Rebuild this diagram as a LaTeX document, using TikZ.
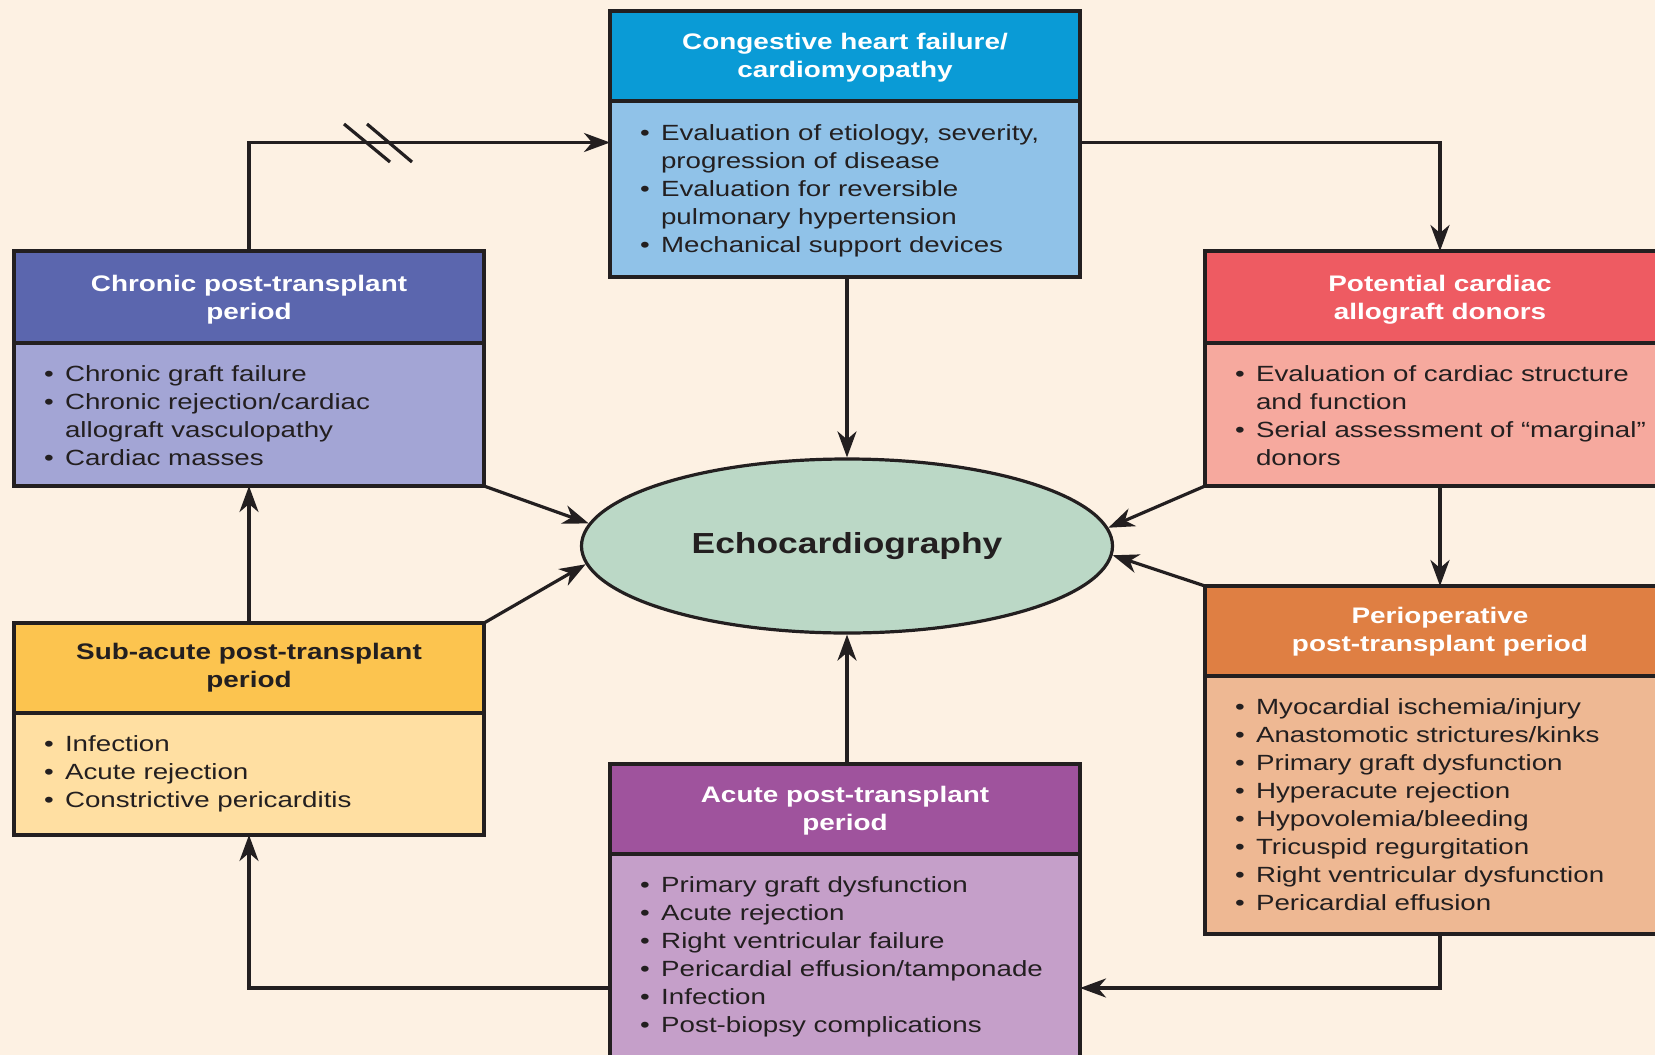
\documentclass[tikz,border=0pt]{standalone}
\usepackage{fontspec}
\setmainfont{Liberation Sans}
\usetikzlibrary{shapes.geometric,arrows.meta}

\definecolor{bg}{HTML}{FDF1E3}
\definecolor{ink}{HTML}{231F20}
\definecolor{chfhd}{HTML}{0A9BD6}
\definecolor{chfbd}{HTML}{90C2E8}
\definecolor{chrhd}{HTML}{5B66AE}
\definecolor{chrbd}{HTML}{A3A5D5}
\definecolor{donhd}{HTML}{EE5B62}
\definecolor{donbd}{HTML}{F6A99E}
\definecolor{subhd}{HTML}{FCC44F}
\definecolor{subbd}{HTML}{FFDFA2}
\definecolor{perhd}{HTML}{DF7F43}
\definecolor{perbd}{HTML}{EEB893}
\definecolor{acuhd}{HTML}{9F539D}
\definecolor{acubd}{HTML}{C59FC9}
\definecolor{echofill}{HTML}{BBD8C6}

% letters are set slightly wide; the optional argument lowers a block inside its box
\newcommand\heading[2][0pt]{\raisebox{-#1}[\height][\depth]{\scalebox{1.24}[1]{\begin{tabular}{@{}c@{}}#2\end{tabular}}}}
\newcommand\bullets[1]{\scalebox{1.26}[1]{\begin{tabular}{@{}l@{\hspace{9pt}}l@{}}#1\end{tabular}}}
\newcommand\bodytext[2][2pt]{\makebox[410pt][l]{\raisebox{-#1}[\height][\depth]{\bullets{#2}}}}

\tikzset{
  boxhead/.style={draw=ink, line width=3.2pt, minimum width=470pt, minimum height=90pt,
    anchor=north west, inner sep=0pt, outer sep=0pt, text=white,
    font=\bfseries\fontsize{22.5}{28}\selectfont},
  boxbody/.style={draw=ink, line width=3.2pt, minimum width=470pt, anchor=north west,
    inner xsep=30pt, inner ysep=0pt, outer sep=0pt, text=ink,
    font=\fontsize{22}{28}\selectfont},
  listtext/.style={inner sep=0pt, text=ink, font=\fontsize{22}{28}\selectfont},
  link/.style={draw=ink, line width=3.2pt},
  arr/.style={link, -{Stealth[length=26pt,width=19pt,inset=8pt]}}
}

\begin{document}
\begin{tikzpicture}[x=1pt, y=-1pt]
\clip (0,0) rectangle (1655,1055);
\fill[bg] (0,0) rectangle (1655,1055);

% Congestive heart failure
\node[boxhead, fill=chfhd] (chfhead) at (610,11)
  {\heading[2pt]{Congestive heart failure/\\cardiomyopathy}};
\node[boxbody, fill=chfbd, minimum height=176pt] (chfbody) at (chfhead.south west)
  {\bodytext{\textbullet & Evaluation of etiology, severity,\\
   & progression of disease\\
   \textbullet & Evaluation for reversible\\
   & pulmonary hypertension\\
   \textbullet & Mechanical support devices}};

% Chronic post-transplant period
\node[boxhead, fill=chrhd, minimum height=92pt] (chronhead) at (14,251)
  {\heading[2.5pt]{Chronic post-transplant\\period}};
\node[boxbody, fill=chrbd, minimum height=143pt] (chronbody) at (chronhead.south west)
  {\bodytext[3.5pt]{\textbullet & Chronic graft failure\\
   \textbullet & Chronic rejection/cardiac\\
   & allograft vasculopathy\\
   \textbullet & Cardiac masses}};

% Potential donors
\node[boxhead, fill=donhd, minimum height=92pt] (donorhead) at (1205,251)
  {\heading[2.5pt]{Potential cardiac\\allograft donors}};
\node[boxbody, fill=donbd, minimum height=143pt] (donorbody) at (donorhead.south west)
  {\bodytext[3.5pt]{\textbullet & Evaluation of cardiac structure\\
   & and function\\
   \textbullet & Serial assessment of “marginal”\\
   & donors}};

% Sub-acute post-transplant period
\node[boxhead, fill=subhd, text=ink] (subhead) at (14,623)
  {\heading{Sub-acute post-transplant\\period}};
\node[boxbody, fill=subbd, minimum height=122pt] (subbody) at (subhead.south west)
  {\bodytext[0pt]{\textbullet & Infection\\
   \textbullet & Acute rejection\\
   \textbullet & Constrictive pericarditis}};

% Perioperative post-transplant period
\node[boxhead, fill=perhd] (periophead) at (1205,586)
  {\heading[0.5pt]{Perioperative\\post-transplant period}};
\node[boxbody, fill=perbd, minimum height=258pt] (periopbody) at (periophead.south west)
  {\bodytext{\textbullet & Myocardial ischemia/injury\\
   \textbullet & Anastomotic strictures/kinks\\
   \textbullet & Primary graft dysfunction\\
   \textbullet & Hyperacute rejection\\
   \textbullet & Hypovolemia/bleeding\\
   \textbullet & Tricuspid regurgitation\\
   \textbullet & Right ventricular dysfunction\\
   \textbullet & Pericardial effusion}};

% Acute post-transplant period (runs past the lower edge)
\node[boxhead, fill=acuhd] (acutehead) at (610,764)
  {\heading[2pt]{Acute post-transplant\\period}};
\node[boxbody, fill=acubd, minimum height=240pt] (acutebody) at (acutehead.south west) {};
\node[listtext, anchor=north west] (acutelist) at ([xshift=30pt,yshift=-18.5pt]acutebody.north west)
  {\bullets{\textbullet & Primary graft dysfunction\\
   \textbullet & Acute rejection\\
   \textbullet & Right ventricular failure\\
   \textbullet & Pericardial effusion/tamponade\\
   \textbullet & Infection\\
   \textbullet & Post-biopsy complications}};

% Centre
\node[ellipse, draw=ink, line width=3.2pt, fill=echofill, minimum width=531pt,
  minimum height=174pt, inner sep=0pt, text=ink,
  font=\bfseries\fontsize{29}{34}\selectfont] (echo) at (847,546)
  {\scalebox{1.22}[1]{Echocardiography}};

% Cycle of connectors
\draw[arr] (chronhead.north) |- ([yshift=-41.5pt]chfbody.north west);
\draw[link] (344,124) -- (390,162);
\draw[link] (367,124) -- (412,162);
\draw[arr] ([yshift=-41.5pt]chfbody.north east) -| (donorhead.north);
\draw[arr] (donorbody.south) -- (periophead.north);
\draw[arr] (periopbody.south) |- ([yshift=-134pt]acutebody.north east);
\draw[arr] ([yshift=-134pt]acutebody.north west) -| (subbody.south);
\draw[arr] (subhead.north) -- (chronbody.south);

% Into the centre
\draw[arr] (echo.north |- chfbody.south) -- (echo.north);
\draw[arr] (echo.south |- acutehead.north) -- (echo.south);
\draw[arr] (chronbody.south east) -- (echo.175.6);
\draw[arr] (subhead.north east) -- (echo.184.2);
\draw[arr] (donorbody.south west) -- (echo.4.9);
\draw[arr] (periophead.north west) -- (echo.358.5);
\end{tikzpicture}
\end{document}
